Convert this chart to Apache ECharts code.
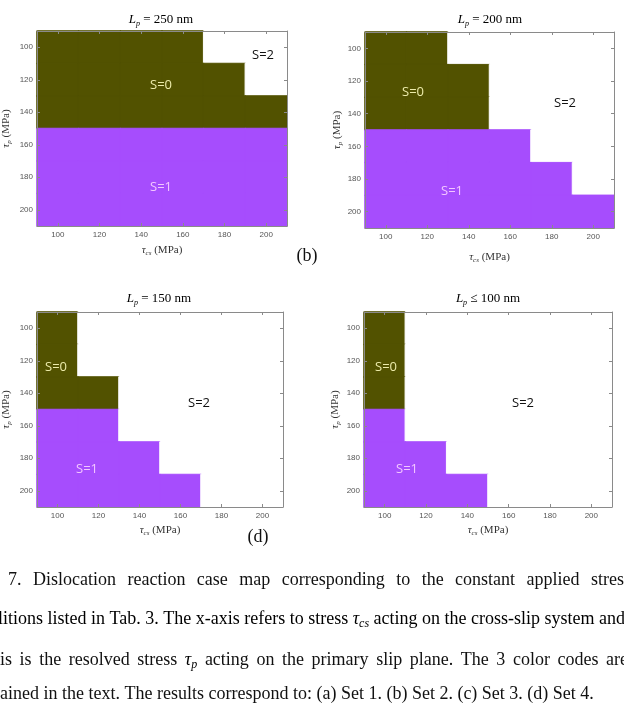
<!DOCTYPE html>
<html>
<head>
<meta charset="utf-8">
<script src="https://cdn.jsdelivr.net/npm/echarts@6/dist/echarts.min.js"></script>
<style>
html,body{margin:0;padding:0;background:#fff;}
#chartDiv{width:624px;height:709px;}
</style>
</head>
<body>
<div id="chartDiv"></div>
<script>
var tauCs = ['100', '120', '140', '160', '180', '200'];
var tauP = ['100', '120', '140', '160', '180', '200'];

// state S for each tau_p row (top -> bottom) and tau_cs column (left -> right)
var caseLp250 = [
    [0, 0, 0, 0, 2, 2],
    [0, 0, 0, 0, 0, 2],
    [0, 0, 0, 0, 0, 0],
    [1, 1, 1, 1, 1, 1],
    [1, 1, 1, 1, 1, 1],
    [1, 1, 1, 1, 1, 1]
];
var caseLp200 = [
    [0, 0, 2, 2, 2, 2],
    [0, 0, 0, 2, 2, 2],
    [0, 0, 0, 2, 2, 2],
    [1, 1, 1, 1, 2, 2],
    [1, 1, 1, 1, 1, 2],
    [1, 1, 1, 1, 1, 1]
];
var caseLp150 = [
    [0, 2, 2, 2, 2, 2],
    [0, 2, 2, 2, 2, 2],
    [0, 0, 2, 2, 2, 2],
    [1, 1, 2, 2, 2, 2],
    [1, 1, 1, 2, 2, 2],
    [1, 1, 1, 1, 2, 2]
];
var caseLp100 = [
    [0, 2, 2, 2, 2, 2],
    [0, 2, 2, 2, 2, 2],
    [0, 2, 2, 2, 2, 2],
    [1, 2, 2, 2, 2, 2],
    [1, 1, 2, 2, 2, 2],
    [1, 1, 1, 2, 2, 2]
];
var panelTitles = [' = 250 nm', ' = 200 nm', ' = 150 nm', ' \u2264 100 nm'];

var stateColors = ['#525200', '#a64dfd', '#ffffff'];
var boxColor = '#8a8a8a';
var serif = '"Liberation Serif", "Times New Roman", serif';
var sans = '"Liberation Sans", Arial, sans-serif';

var myChart = echarts.init(document.getElementById('chartDiv'));

// plot boxes of the four panels
var grids = [
    {left: 35, top: 31, width: 252, height: 195},
    {left: 365, top: 32, width: 249, height: 196},
    {left: 35, top: 312, width: 248, height: 195},
    {left: 364, top: 312, width: 248, height: 195}
];
var maps = [caseLp250, caseLp200, caseLp150, caseLp100];
var xNameGap = [18, 23, 17, 17];
var yNameGap = [24, 21, 24, 22];

function toCells(m) {
    var d = [];
    for (var r = 0; r < m.length; r++) {
        for (var c = 0; c < m[r].length; c++) {
            var v = m[r][c];
            // border in the cell colour hides the seams between cells
            d.push({value: [c, r, v], itemStyle: {borderColor: stateColors[v], borderWidth: 1}});
        }
    }
    return d;
}

var nameRich = {
    t: {fontFamily: serif, fontStyle: 'italic', fontSize: 11, color: '#333'},
    s: {fontFamily: serif, fontStyle: 'italic', fontSize: 7, color: '#333', padding: [6, 0, 0, 0]},
    n: {fontFamily: serif, fontSize: 11, color: '#333'}
};

var xAxes = [], yAxes = [], series = [];
grids.forEach(function (g, i) {
    var base = {
        type: 'category',
        gridIndex: i,
        boundaryGap: true,
        z: 5,
        axisLine: {show: true, lineStyle: {color: boxColor, width: 1}},
        axisTick: {show: true, inside: true, alignWithLabel: true, length: 3, lineStyle: {color: boxColor}},
        splitLine: {show: false}
    };
    xAxes.push(Object.assign({}, base, {
        data: tauCs, position: 'bottom',
        axisLabel: {color: '#555', fontSize: 8, margin: 5, fontFamily: sans},
        name: '{t|\u03c4}{s|cs}{n| (MPa)}', nameLocation: 'middle', nameGap: xNameGap[i],
        nameTextStyle: {rich: nameRich}
    }));
    xAxes.push(Object.assign({}, base, {
        data: tauCs, position: 'top', axisLabel: {show: false}
    }));
    yAxes.push(Object.assign({}, base, {
        data: tauP, position: 'left', inverse: true,
        axisLabel: {color: '#555', fontSize: 8, margin: 4, fontFamily: sans},
        name: '{t|\u03c4}{s|p}{n| (MPa)}', nameLocation: 'middle', nameGap: yNameGap[i],
        nameTextStyle: {rich: nameRich}
    }));
    yAxes.push(Object.assign({}, base, {
        data: tauP, position: 'right', inverse: true, axisLabel: {show: false}
    }));
    series.push({
        type: 'heatmap',
        xAxisIndex: i * 2,
        yAxisIndex: i * 2,
        data: toCells(maps[i]),
        silent: true,
        emphasis: {disabled: true}
    });
});

var graphics = [];
function addText(x, y, text, style) {
    graphics.push({
        type: 'text', x: x, y: y, z: 100, silent: true,
        style: Object.assign({text: text, textVerticalAlign: 'middle'}, style)
    });
}

// panel titles
var titleRich = {
    i: {fontFamily: serif, fontStyle: 'italic', fontSize: 13, color: '#222'},
    s: {fontFamily: serif, fontStyle: 'italic', fontSize: 8, color: '#222', padding: [7, 0, 0, 0]},
    n: {fontFamily: serif, fontSize: 13, color: '#222'}
};
var titlePos = [[161, 20], [490, 20], [159, 299], [488, 299]];
titlePos.forEach(function (p, i) {
    addText(p[0], p[1], '{i|L}{s|p}{n|' + panelTitles[i] + '}', {rich: titleRich, textAlign: 'center'});
});

// S region labels
var sLabels = [
    [161, 85, 'S=0'], [161, 187, 'S=1'], [263, 55, 'S=2'],
    [413, 92, 'S=0'], [452, 191, 'S=1'], [565, 103, 'S=2'],
    [56, 367, 'S=0'], [87, 469, 'S=1'], [199, 403, 'S=2'],
    [386, 367, 'S=0'], [407, 469, 'S=1'], [523, 403, 'S=2']
];
var sColors = {'S=0': '#ecebaa', 'S=1': '#f3c6ff', 'S=2': '#111'};
sLabels.forEach(function (l) {
    addText(l[0], l[1], l[2], {
        textAlign: 'center', fontFamily: '"Open Sans", "Noto Sans", sans-serif',
        fontSize: 13, fill: sColors[l[2]]
    });
});

addText(307, 256, '(b)', {textAlign: 'center', fontFamily: serif, fontSize: 18, fill: '#111'});
addText(258, 537, '(d)', {textAlign: 'center', fontFamily: serif, fontSize: 18, fill: '#111'});

// caption
var capFont = '18px "Liberation Serif"';
var capItalic = 'italic 18px "Liberation Serif"';
var capSub = 'italic 12px "Liberation Serif"';
var capStyle = {fontFamily: serif, fontSize: 18, fill: '#111'};
var capRich = {
    t: {fontFamily: serif, fontStyle: 'italic', fontSize: 18, color: '#111'},
    s: {fontFamily: serif, fontStyle: 'italic', fontSize: 12, color: '#111', padding: [9, 0, 0, 0]},
    n: {fontFamily: serif, fontSize: 18, color: '#111'}
};
var ctx = document.createElement('canvas').getContext('2d');
function measure(font, s) { ctx.font = font; return ctx.measureText(s).width; }

// words of a justified line, spread from left edge to right edge
function justify(words, left, right, y) {
    var widths = words.map(function (w) {
        if (w === '\u03c4p') return measure(capItalic, '\u03c4') + measure(capSub, 'p');
        return measure(capFont, w);
    });
    var total = widths.reduce(function (a, b) { return a + b; }, 0);
    var gap = (right - left - total) / (words.length - 1);
    var x = left;
    words.forEach(function (w, k) {
        if (w === '\u03c4p') {
            addText(x, y, '{t|\u03c4}{s|p}', {textAlign: 'left', rich: capRich});
        } else {
            addText(x, y, w, Object.assign({textAlign: 'left'}, capStyle));
        }
        x += widths[k] + gap;
    });
}
justify(['7.', 'Dislocation', 'reaction', 'case', 'map', 'corresponding', 'to', 'the',
    'constant', 'applied', 'stress'], 8, 631, 580);
addText(-2, 619, '{n|litions listed in Tab. 3. The x-axis refers to stress }{t|\u03c4}{s|cs}{n| acting on the cross-slip system and}',
    {textAlign: 'left', rich: capRich});
justify(['is', 'is', 'the', 'resolved', 'stress', '\u03c4p', 'acting', 'on', 'the', 'primary',
    'slip', 'plane.', 'The', '3', 'color', 'codes', 'are'], 0, 628, 660);
addText(0, 694, 'ained in the text. The results correspond to: (a) Set 1. (b) Set 2. (c) Set 3. (d) Set 4.',
    Object.assign({textAlign: 'left'}, capStyle));

var option = {
    backgroundColor: '#fff',
    animation: false,
    grid: grids,
    xAxis: xAxes,
    yAxis: yAxes,
    visualMap: {
        type: 'piecewise',
        show: false,
        dimension: 2,
        pieces: [
            {value: 0, color: stateColors[0]},
            {value: 1, color: stateColors[1]},
            {value: 2, color: stateColors[2]}
        ]
    },
    series: series,
    graphic: graphics
};

myChart.setOption(option);
</script>
</body>
</html>
